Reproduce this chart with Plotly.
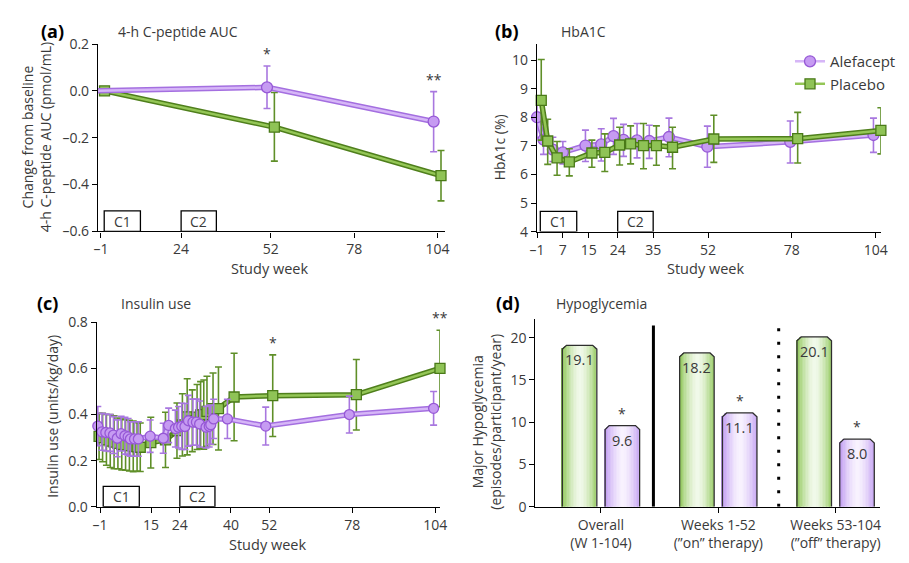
import plotly.graph_objects as go

# ---------------- DATA ----------------
# (a) 4-h C-peptide AUC change from baseline
weeks_a = [-1, 52, 104]
cpep_alef = [0.0, 0.015, -0.131]
cpep_alef_up = [0.0, 0.091, 0.128]
cpep_alef_dn = [0.0, 0.090, 0.129]
cpep_plac = [0.0, -0.155, -0.362]
cpep_plac_up = [0.0, 0.148, 0.107]
cpep_plac_dn = [0.0, 0.145, 0.108]

# (b) HbA1c (%)
weeks_b_alef = [-1, 1, 3.9, 7, 14, 18.9, 22.7, 25.8, 30, 33.8, 39.9, 51.8, 77.5, 103.3]
hba1c_alef = [8.0, 7.22, 6.87, 6.77, 7.01, 7.05, 7.34, 7.21, 7.19, 7.17, 7.31, 6.97, 7.14, 7.38]
hba1c_alef_hi = [8.73, 7.75, 7.30, 7.15, 7.55, 7.60, 7.96, 7.75, 7.78, 7.72, 7.97, 7.69, 7.87, 7.97]
hba1c_alef_lo = [7.28, 6.70, 6.45, 6.37, 6.45, 6.47, 6.70, 6.63, 6.58, 6.56, 6.62, 6.25, 6.40, 6.77]
weeks_b_plac = [0.3, 2.3, 5.2, 9, 16, 20, 24.6, 28, 32, 36, 41, 53.8, 79.8, 105.6]
hba1c_plac = [8.59, 7.17, 6.58, 6.44, 6.75, 6.77, 7.03, 7.07, 7.01, 7.01, 6.95, 7.24, 7.25, 7.54]
hba1c_plac_hi = [10.02, 7.93, 7.15, 6.90, 7.20, 7.42, 7.65, 7.70, 7.78, 7.70, 7.65, 8.07, 8.17, 8.33]
hba1c_plac_lo = [7.20, 6.35, 5.97, 5.95, 6.25, 6.10, 6.33, 6.37, 6.20, 6.32, 6.20, 6.42, 6.40, 6.72]

# (c) Insulin use (units/kg/day)
weeks_c_alef = [-1.7, -0.4, 0.8, 2.1, 3.2, 4.4, 5.6, 6.8, 7.8, 8.5, 9.8, 11.0, 14.7, 18.8, 20.5,
                22.6, 23.6, 24.6, 25.6, 26.7, 28.1, 29.2, 30.2, 32.2, 33.2, 33.7, 34.6, 38.9,
                50.9, 77.1, 103.5]
insulin_alef = [0.350, 0.325, 0.322, 0.320, 0.311, 0.297, 0.317, 0.308, 0.303, 0.294, 0.294, 0.294,
                0.306, 0.297, 0.353, 0.339, 0.345, 0.349, 0.348, 0.373, 0.367, 0.367, 0.359, 0.345,
                0.349, 0.356, 0.381, 0.381, 0.350, 0.400, 0.427]
insulin_alef_err = [0.085, 0.080, 0.080, 0.080, 0.080, 0.080, 0.075, 0.080, 0.080, 0.075, 0.075, 0.075,
                    0.070, 0.065, 0.075, 0.080, 0.090, 0.100, 0.100, 0.110, 0.100, 0.100, 0.100, 0.090,
                    0.090, 0.085, 0.085, 0.085, 0.082, 0.080, 0.073]
weeks_c_plac = [-1.3, -0.2, 1.0, 2.2, 3.4, 4.6, 5.8, 7.0, 8.2, 9.4, 10.6, 11.6, 14.9, 19.5,
                23.1, 24.8, 26.3, 27.9, 29.4, 30.5, 31.5, 32.5, 34.4, 36.1, 41.0, 53.1, 79.3, 105.5]
insulin_plac = [0.305, 0.300, 0.290, 0.285, 0.280, 0.275, 0.270, 0.268, 0.265, 0.262, 0.260, 0.258,
                0.278, 0.290, 0.330, 0.355, 0.390, 0.373, 0.389, 0.398, 0.400, 0.414, 0.425, 0.426,
                0.476, 0.482, 0.486, 0.600]
insulin_plac_err = [0.100, 0.105, 0.110, 0.115, 0.115, 0.110, 0.110, 0.110, 0.110, 0.110, 0.105, 0.105,
                    0.110, 0.120, 0.120, 0.135, 0.165, 0.134, 0.141, 0.145, 0.150, 0.152, 0.155, 0.180,
                    0.190, 0.177, 0.153, 0.166]

# (d) Major hypoglycemia
hypo_groups = ["Overall<br>(W 1-104)", "Weeks 1-52<br>(\u201don\u201d therapy)",
               "Weeks 53-104<br>(\u201doff\u201d therapy)"]
hypo_plac = [19.1, 18.2, 20.1]
hypo_alef = [9.6, 11.1, 8.0]

# treatment courses (weeks)
courses = [("C1", 0.0, 11.3), ("C2", 24.0, 35.0)]

# significance marks
sig_a = [(52, "*"), (104, "**")]
sig_c = [(53.1, 0.66, "*"), (105.5, 0.766, "**")]

# ---------------- STYLE ----------------
FONT = "Open Sans"
TXT = "#3a3a3a"
P_DARK, P_LIGHT, P_MK, P_MKL, P_ERR = "#a46fe0", "#d6b6f7", "#c69bf2", "#9658d6", "#a877df"
G_DARK, G_LIGHT, G_MK, G_MKL, G_ERR = "#4f7f1c", "#94c656", "#8fc356", "#4a7a18", "#5f8f28"

# the page adds an 8px body margin; figure is laid out in page pixels
OFF = 8
W, H = 909 - 2 * OFF, 563 - 2 * OFF
def px(x): return (x - OFF) / W
def py(y): return 1 - (y - OFF) / H

fig = go.Figure()

def series(xax, yax, x, y, up, dn, dark, light, mk, mkl, err, symbol, size, name, legend):
    fig.add_trace(go.Scatter(x=x, y=y, mode="lines", xaxis=xax, yaxis=yax,
                             line=dict(color=dark, width=5.5), showlegend=False, hoverinfo="skip",
                             cliponaxis=False,
                             error_y=dict(type="data", array=up, arrayminus=dn, color=err,
                                          thickness=1.6, width=3.5)))
    fig.add_trace(go.Scatter(x=x, y=y, mode="lines+markers", xaxis=xax, yaxis=yax, name=name,
                             line=dict(color=light, width=2.5), cliponaxis=False,
                             marker=dict(symbol=symbol, size=size, color=mk,
                                         line=dict(color=mkl, width=1.3)),
                             showlegend=legend))

# (a)
xa_alef = [w - 1.2 for w in weeks_a]
xa_plac = [w + 1.1 for w in weeks_a]
series("x", "y", xa_plac, cpep_plac, cpep_plac_up, cpep_plac_dn, G_DARK, G_LIGHT, G_MK, G_MKL, G_ERR,
       "square", 10, "Placebo", False)
series("x", "y", xa_alef, cpep_alef, cpep_alef_up, cpep_alef_dn, P_DARK, P_LIGHT, P_MK, P_MKL, P_ERR,
       "circle", 11, "Alefacept", False)

# (b)
b_plac_up = [h - v for h, v in zip(hba1c_plac_hi, hba1c_plac)]
b_plac_dn = [v - l for l, v in zip(hba1c_plac_lo, hba1c_plac)]
b_alef_up = [h - v for h, v in zip(hba1c_alef_hi, hba1c_alef)]
b_alef_dn = [v - l for l, v in zip(hba1c_alef_lo, hba1c_alef)]
series("x2", "y2", weeks_b_alef, hba1c_alef, b_alef_up, b_alef_dn, P_DARK, P_LIGHT, P_MK, P_MKL, P_ERR,
       "circle", 11, "Alefacept", True)
series("x2", "y2", weeks_b_plac, hba1c_plac, b_plac_up, b_plac_dn, G_DARK, G_LIGHT, G_MK, G_MKL, G_ERR,
       "square", 10, "Placebo", True)

# (c)
series("x3", "y3", weeks_c_plac, insulin_plac, insulin_plac_err, insulin_plac_err, G_DARK, G_LIGHT, G_MK,
       G_MKL, G_ERR, "square", 10, "Placebo", False)
series("x3", "y3", weeks_c_alef, insulin_alef, insulin_alef_err, insulin_alef_err, P_DARK, P_LIGHT, P_MK,
       P_MKL, P_ERR, "circle", 10, "Alefacept", False)

# (d) gradient bars with chamfered tops
centers = [1.9, 5.3, 8.7]
bw = 1.0
N = 24
cx, cy = 0.12, 0.45

def mix(c1, c2, t):
    a = [int(c1[i:i + 2], 16) for i in (1, 3, 5)]
    b = [int(c2[i:i + 2], 16) for i in (1, 3, 5)]
    return "rgb(%d,%d,%d)" % tuple(round(a[k] + (b[k] - a[k]) * t) for k in range(3))

def gradient_bars(vals, off, edge, center):
    for j in range(N):
        f = (j + 0.5) / N
        d = min(f, 1 - f) * bw
        t = 1 - abs(2 * f - 1.08) ** 1.6
        t = max(0.0, min(1.0, t))
        hs = [v - cy * max(0.0, 1 - d / cx) for v in vals]
        fig.add_trace(go.Bar(x=[c + off - bw / 2 + f * bw for c in centers], y=hs, width=bw / N * 1.08,
                             xaxis="x4", yaxis="y4", marker=dict(color=mix(edge, center, t), line_width=0),
                             showlegend=False, hoverinfo="skip"))
    ox, oy = [], []
    for c, v in zip(centers, vals):
        x0, x1 = c + off - bw / 2, c + off + bw / 2
        ox += [x0, x0, x0 + cx, x1 - cx, x1, x1, None]
        oy += [0, v - cy, v, v, v - cy, 0, None]
    fig.add_trace(go.Scatter(x=ox, y=oy, mode="lines", xaxis="x4", yaxis="y4",
                             line=dict(color="#2e2e2e", width=1.3), showlegend=False, hoverinfo="skip"))

gradient_bars(hypo_plac, -0.62, "#93c95e", "#f1f9ea")
gradient_bars(hypo_alef, 0.62, "#c29ff2", "#f8f2fe")

annotations = []
shapes = []
for c, v in zip(centers, hypo_plac):
    annotations.append(dict(x=c - 0.62, y=v, xref="x4", yref="y4", text=f"{v:.1f}", showarrow=False,
                            yanchor="top", yshift=-3, font=dict(size=14.5, color=TXT, family=FONT)))
for c, v in zip(centers, hypo_alef):
    annotations.append(dict(x=c + 0.62, y=v, xref="x4", yref="y4", text=f"{v:.1f}", showarrow=False,
                            yanchor="top", yshift=-3, font=dict(size=14.5, color=TXT, family=FONT)))
    annotations.append(dict(x=c + 0.62, y=v, xref="x4", yref="y4", text="*", showarrow=False,
                            yanchor="bottom", yshift=1, font=dict(size=14, color=TXT, family=FONT)))

# separators in (d)
shapes.append(dict(type="line", xref="x4", yref="y4", x0=3.42, x1=3.42, y0=0, y1=21.45,
                   line=dict(color="black", width=3)))
shapes.append(dict(type="line", xref="x4", yref="y4", x0=7.05, x1=7.05, y0=0, y1=21.45,
                   line=dict(color="black", width=3, dash="3px,10.5px")))

# significance in (a)
for w, s in sig_a:
    i = weeks_a.index(w)
    annotations.append(dict(x=w - 1.2, y=cpep_alef[i] + cpep_alef_up[i], xref="x", yref="y", text=s,
                            showarrow=False, yanchor="bottom", yshift=1,
                            font=dict(size=14, color=TXT, family=FONT)))
for x, y, s in sig_c:
    annotations.append(dict(x=x, y=y, xref="x3", yref="y3", text=s, showarrow=False, yanchor="bottom",
                            yshift=1, font=dict(size=14, color=TXT, family=FONT)))

# treatment course boxes
for xr, yr, y0, y1 in (("x", "y", -0.6, -0.513), ("x2", "y2", 4.0, 4.71), ("x3", "y3", 0.0, 0.088)):
    for lab, a, b in courses:
        shapes.append(dict(type="rect", xref=xr, yref=yr, x0=a, x1=b, y0=y0, y1=y1,
                           line=dict(color="black", width=1.3), fillcolor="white", layer="above"))
        annotations.append(dict(x=(a + b) / 2, y=(y0 + y1) / 2, xref=xr, yref=yr, text=lab,
                                showarrow=False, font=dict(size=14, color=TXT, family=FONT)))

# panel letters and titles
for lx, tx, y, letter, title in ((32, 110, 21, "(a)", "4-h C-peptide AUC"),
                                 (496, 563, 21, "(b)", "HbA1C"),
                                 (27, 113, 303, "(c)", "Insulin use"),
                                 (497, 558, 303, "(d)", "Hypoglycemia")):
    annotations.append(dict(x=px(lx), y=py(y), xref="paper", yref="paper", text=f"<b>{letter}</b>",
                            showarrow=False, xanchor="left", yanchor="middle",
                            font=dict(size=18, color="black", family=FONT)))
    annotations.append(dict(x=px(tx), y=py(y + 1), xref="paper", yref="paper", text=title,
                            showarrow=False, xanchor="left", yanchor="middle",
                            font=dict(size=14, color=TXT, family=FONT)))

# axis titles
for x, y, t in ((29, 132, "Change from baseline<br>4-h C-peptide AUC (pmol/mL)"),
                (502, 142, "HbA1c (%)"),
                (45, 421, "Insulin use (units/kg/day)"),
                (489, 426, "Major Hypoglycemia<br>(episodes/participant/year)")):
    annotations.append(dict(x=px(x), y=py(y), xref="paper", yref="paper", text=t, textangle=-90,
                            showarrow=False, xanchor="center", yanchor="middle",
                            font=dict(size=14, color=TXT, family=FONT)))
for x, y in ((267, 267), (713, 267), (265, 553)):
    annotations.append(dict(x=px(x), y=py(y), xref="paper", yref="paper", text="Study week",
                            showarrow=False, xanchor="center", yanchor="middle",
                            font=dict(size=14.5, color=TXT, family=FONT)))

def fmt(v, nd=1):
    s = f"{abs(v):.{nd}f}" if nd else f"{abs(v):g}"
    return ("\u2013" + s) if v < 0 else s

axis_common = dict(showline=True, linecolor="black", linewidth=1.4, ticks="outside", ticklen=5,
                   tickwidth=1.3, tickcolor="black", showgrid=False, zeroline=False,
                   tickfont=dict(size=14, color=TXT, family=FONT), fixedrange=True)

ta = [-1, 24, 52, 78, 104]
tb = [-1, 7, 15, 24, 35, 52, 78, 104]
tc = [-1, 15, 24, 40, 52, 78, 104]
ya_t = [0.2, 0.0, -0.2, -0.4, -0.6]
yc_t = [0.0, 0.2, 0.4, 0.6, 0.8]

fig.update_layout(
    width=W, height=H, margin=dict(l=0, r=0, t=0, b=0), autosize=False,
    paper_bgcolor="white", plot_bgcolor="white", barmode="overlay", bargap=0,
    font=dict(family=FONT, color=TXT),
    xaxis=dict(domain=[px(92), px(447)], range=[-1.9, 106.4], anchor="y",
               tickvals=ta, ticktext=[fmt(v, 0) for v in ta], **axis_common),
    yaxis=dict(domain=[py(229), py(35)], range=[-0.6, 0.2], anchor="x",
               tickvals=ya_t, ticktext=[fmt(v) for v in ya_t], **axis_common),
    xaxis2=dict(domain=[px(541), px(892.7)], range=[-1, 105.6], anchor="y2",
                tickvals=tb, ticktext=[fmt(v, 0) for v in tb], **axis_common),
    yaxis2=dict(domain=[py(229.3), py(35)], range=[4, 10.56], anchor="x2",
                tickvals=[4, 5, 6, 7, 8, 9, 10], **axis_common),
    xaxis3=dict(domain=[px(90.7), px(441.7)], range=[-2, 105.5], anchor="y3",
                tickvals=tc, ticktext=[fmt(v, 0) for v in tc], **axis_common),
    yaxis3=dict(domain=[py(514.3), py(323.3)], range=[0, 0.8], anchor="x3",
                tickvals=yc_t, ticktext=[fmt(v) for v in yc_t], **axis_common),
    xaxis4=dict(domain=[px(539.3), px(892.3)], range=[0, 10], anchor="y4",
                tickvals=centers, ticktext=hypo_groups, **axis_common),
    yaxis4=dict(domain=[py(514.3), py(320)], range=[0, 22.2], anchor="x4",
                tickvals=[0, 5, 10, 15, 20], **axis_common),
    legend=dict(x=px(800), y=py(36), xanchor="left", yanchor="top", bgcolor="rgba(0,0,0,0)",
                font=dict(size=15, color=TXT, family=FONT), itemwidth=30, tracegroupgap=0),
    annotations=annotations, shapes=shapes,
)

fig.write_html("out.html", config={"displayModeBar": False})
